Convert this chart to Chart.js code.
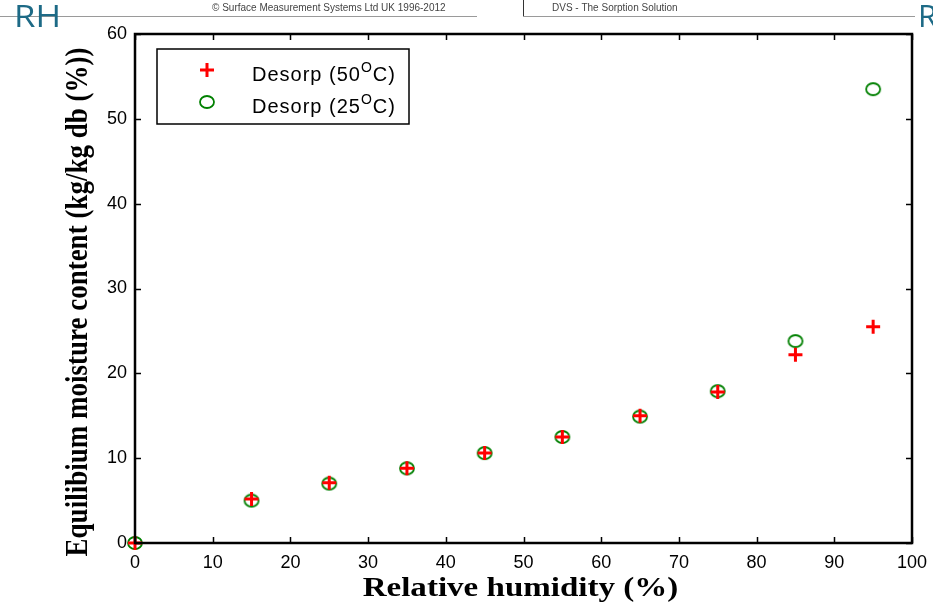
<!DOCTYPE html>
<html>
<head>
<meta charset="utf-8">
<script src="https://cdn.jsdelivr.net/npm/chart.js@4/dist/chart.umd.min.js"></script>
<style>
  html, body { margin: 0; padding: 0; background: #fff; }
  #wrap { width: 933px; height: 606px; position: relative; }
</style>
</head>
<body>
<div id="wrap"><canvas id="chart"></canvas></div>
<script>
// Relative humidity steps (%)
const rhSteps = [0, 15, 25, 35, 45, 55, 65, 75, 85, 95];
// Equilibrium moisture content (kg/kg db, %)
const desorp50 = [0, 5.2, 7.1, 8.8, 10.6, 12.5, 15.0, 17.8, 22.2, 25.5];
const desorp25 = [0, 5.0, 7.0, 8.8, 10.6, 12.5, 14.9, 17.9, 23.8, 53.5];
const seriesLabels = ['Desorp (50', 'Desorp (25'];
const xTicks = [0, 10, 20, 30, 40, 50, 60, 70, 80, 90, 100];
const yTicks = [0, 10, 20, 30, 40, 50, 60];
const xTitle = 'Relative humidity (%)';
const yTitle = 'Equilibium moisture content (kg/kg db (%))';

const RED = 'rgb(255, 0, 0)';
const GREEN = 'rgb(0, 128, 0)';
const SERIF = '"Liberation Serif", "Times New Roman", serif';
const SANS = '"Liberation Sans", Arial, sans-serif';

function toPoints(xs, ys) {
  return xs.map((x, i) => ({ x: x, y: ys[i] }));
}

// matlab's circles came out a bit squashed in the screenshot
function ellipseMarker() {
  const c = document.createElement('canvas');
  c.width = 18; c.height = 16;
  const g = c.getContext('2d');
  g.strokeStyle = GREEN;
  g.lineWidth = 1.8;
  g.beginPath();
  g.ellipse(9, 8, 7, 6, 0, 0, Math.PI * 2);
  g.stroke();
  return c;
}

// header scraps from the original screenshot + inward ticks, box, titles and legend
const framePlugin = {
  id: 'frame',
  beforeDraw(chart) {
    const ctx = chart.ctx;
    ctx.save();
    ctx.strokeStyle = '#9a9a9a';
    ctx.lineWidth = 1;
    ctx.beginPath();
    ctx.moveTo(0, 16.5); ctx.lineTo(477, 16.5);
    ctx.moveTo(523, 16.5); ctx.lineTo(915, 16.5);
    ctx.stroke();
    ctx.strokeStyle = '#333';
    ctx.beginPath();
    ctx.moveTo(523.5, 0); ctx.lineTo(523.5, 16);
    ctx.stroke();
    ctx.fillStyle = '#444';
    ctx.font = '10px ' + SANS;
    ctx.textBaseline = 'middle';
    ctx.fillText('\u00a9 Surface Measurement Systems Ltd UK 1996-2012', 212, 8);
    ctx.fillText('DVS - The Sorption Solution', 552, 8);
    ctx.fillStyle = '#1d6a86';
    ctx.font = '31px "Open Sans", sans-serif';
    ctx.textBaseline = 'alphabetic';
    ctx.save();
    ctx.translate(14, 27);
    ctx.scale(1.12, 1);
    ctx.fillText('RH', 0, 0);
    ctx.restore();
    ctx.fillText('R', 918, 27);
    ctx.restore();
  },
  afterDraw(chart) {
    const ctx = chart.ctx;
    const a = chart.chartArea;
    const xs = chart.scales.x, ys = chart.scales.y;
    const t = 6;
    ctx.save();
    ctx.strokeStyle = '#000';
    ctx.lineWidth = 1.5;
    ctx.beginPath();
    xTicks.forEach(v => {
      const px = Math.round(xs.getPixelForValue(v)) + 0.5;
      ctx.moveTo(px, a.bottom); ctx.lineTo(px, a.bottom - t);
      ctx.moveTo(px, a.top); ctx.lineTo(px, a.top + t);
    });
    yTicks.forEach(v => {
      const py = Math.round(ys.getPixelForValue(v)) + 0.5;
      ctx.moveTo(a.left, py); ctx.lineTo(a.left + t, py);
      ctx.moveTo(a.right, py); ctx.lineTo(a.right - t, py);
    });
    ctx.stroke();
    ctx.lineWidth = 2.5;
    ctx.strokeRect(a.left, a.top, a.right - a.left, a.bottom - a.top);

    // axis titles (bold serif, stretched wide like the source image)
    ctx.fillStyle = '#000';
    ctx.textAlign = 'center';
    ctx.textBaseline = 'middle';
    ctx.font = 'bold 28px ' + SERIF;
    ctx.save();
    ctx.translate((a.left + a.right) / 2 - 3, 589);
    ctx.scale(1.18, 1);
    ctx.fillText(xTitle, 0, 0);
    ctx.restore();
    ctx.save();
    ctx.translate(79, 302);
    ctx.rotate(-Math.PI / 2);
    ctx.scale(1, 1.2);
    ctx.font = 'bold 27px ' + SERIF;
    ctx.fillText(yTitle, 0, 0);
    ctx.restore();

    // legend box
    ctx.textAlign = 'left';
    const lx = 157, ly = a.top + 15, lw = 252, lh = 75;
    ctx.fillStyle = '#fff';
    ctx.fillRect(lx, ly, lw, lh);
    ctx.lineWidth = 1.5;
    ctx.strokeStyle = '#000';
    ctx.strokeRect(lx, ly, lw, lh);
    const rows = [ly + 21, ly + 53];
    chart.data.datasets.forEach((ds, i) => {
      const cy = rows[i];
      const cx = lx + 50;
      if (ds.pointStyle === 'cross') {
        ctx.lineWidth = ds.pointBorderWidth;
        ctx.strokeStyle = ds.pointBorderColor;
        ctx.beginPath();
        ctx.moveTo(cx - 7, cy); ctx.lineTo(cx + 7, cy);
        ctx.moveTo(cx, cy - 7); ctx.lineTo(cx, cy + 7);
        ctx.stroke();
      } else {
        ctx.drawImage(ds.pointStyle, cx - 9, cy - 8);
      }
      ctx.fillStyle = '#000';
      ctx.textBaseline = 'alphabetic';
      ctx.letterSpacing = '1px';
      const base = cy + 11;
      let x = lx + 95;
      ctx.font = '20px ' + SANS;
      ctx.fillText(seriesLabels[i], x, base);
      x += ctx.measureText(seriesLabels[i]).width;
      ctx.font = '14px ' + SANS;
      ctx.fillText('O', x, base - 9);
      x += ctx.measureText('O').width;
      ctx.font = '20px ' + SANS;
      ctx.fillText('C)', x, base);
      ctx.letterSpacing = '0px';
    });
    ctx.restore();
  }
};

new Chart(document.getElementById('chart'), {
  type: 'scatter',
  data: {
    datasets: [
      {
        label: 'Desorp (50\u00b0C)',
        data: toPoints(rhSteps, desorp50),
        pointStyle: 'cross',
        pointRadius: 7,
        pointBorderWidth: 3,
        pointBorderColor: RED,
        pointBackgroundColor: RED,
        clip: false
      },
      {
        label: 'Desorp (25\u00b0C)',
        data: toPoints(rhSteps, desorp25),
        pointStyle: ellipseMarker(),
        pointRadius: 7,
        pointBorderColor: GREEN,
        clip: false
      }
    ]
  },
  options: {
    responsive: true,
    maintainAspectRatio: false,
    animation: false,
    layout: { padding: { top: 34, right: 21, left: 0, bottom: 0 } },
    plugins: {
      legend: { display: false },
      tooltip: { enabled: false }
    },
    scales: {
      x: {
        type: 'linear',
        min: 0,
        max: 100,
        afterBuildTicks: (s) => { s.ticks = xTicks.map(v => ({ value: v })); },
        afterFit: (s) => { s.height = 63; s.paddingRight = 0; },
        grid: { display: false, drawTicks: false },
        border: { display: false },
        ticks: {
          color: '#000',
          padding: 9,
          font: { family: SANS, size: 18 }
        }
      },
      y: {
        type: 'linear',
        min: 0,
        max: 60,
        afterBuildTicks: (s) => { s.ticks = yTicks.map(v => ({ value: v })); },
        afterFit: (s) => { s.width = 135; },
        grid: { display: false, drawTicks: false },
        border: { display: false },
        ticks: {
          color: '#000',
          padding: 8,
          font: { family: SANS, size: 18 }
        }
      }
    }
  },
  plugins: [framePlugin]
});
</script>
</body>
</html>
